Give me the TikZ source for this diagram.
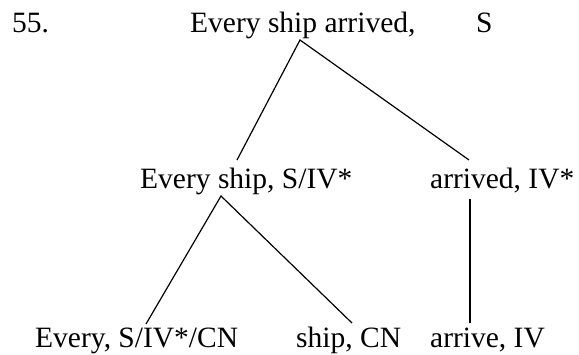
\documentclass[tikz,border=0pt]{standalone}
\usepackage{fontspec}
\setmainfont{Liberation Serif}
\begin{document}
\begin{tikzpicture}[x=1pt,y=-1pt,
  lbl/.style={anchor=base west,inner sep=0pt,font=\fontsize{29.5}{34}\selectfont},
  edge/.style={line width=1.2pt}]
\useasboundingbox (0,0) rectangle (579,354);
\node[lbl] (num) at (12,32) {55.};
\node[lbl] (root) at (190,32) {Every ship arrived,};
\node[lbl] (rootcat) at (476,32) {S};
\node[lbl] (np) at (140,188) {Every ship, S/IV*};
\node[lbl] (vp) at (430,188) {arrived, IV*};
\node[lbl] (det) at (35,347) {Every, S/IV*/CN};
\node[lbl] (cn) at (296,347) {ship, CN};
\node[lbl] (iv) at (430,347) {arrive, IV};
\coordinate (rootB) at (300,40);
\coordinate (npT) at (237,160);
\coordinate (vpT) at (469,160);
\coordinate (npB) at (221,196);
\coordinate (vpB) at (470,199);
\coordinate (detT) at (146,324);
\coordinate (cnT) at (352,323);
\coordinate (ivT) at (470,323);
\draw[edge] (npT) -- (rootB) -- (vpT);
\draw[edge] (detT) -- (npB) -- (cnT);
\draw[edge] (vpB) -- (ivT);
\end{tikzpicture}
\end{document}
